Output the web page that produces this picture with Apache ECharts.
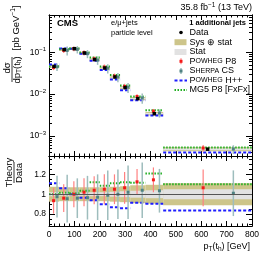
<!DOCTYPE html>
<html><head><meta charset="utf-8">
<script src="https://cdn.jsdelivr.net/npm/echarts@6/dist/echarts.min.js"></script>
<style>html,body{margin:0;padding:0;background:#fff}#c{width:266px;height:258px}</style>
</head><body><div id="c"></div>
<script>
// ---- data ----
const binEdges = [0, 40, 80, 120, 160, 200, 240, 280, 320, 380, 450, 800];
const dataXsec = [0.046, 0.116, 0.122, 0.096, 0.067, 0.042, 0.0256, 0.0143, 0.0078, 0.0034, 0.00048];
const dataStatRel = [0.02, 0.015, 0.015, 0.015, 0.02, 0.02, 0.025, 0.03, 0.035, 0.04, 0.05];
const dataSysStatRel = [0.075, 0.07, 0.07, 0.07, 0.07, 0.07, 0.075, 0.08, 0.09, 0.095, 0.11];
const powhegP8Ratio = [0.935, 0.96, 1.0, 1.02, 1.04, 1.05, 1.05, 1.065, 1.125, 1.145, 1.065];
const powhegP8Err = [0.13, 0.14, 0.13, 0.14, 0.14, 0.15, 0.15, 0.16, 0.13, 0.125, 0.185];
const sherpaRatio = [0.975, 0.955, 0.96, 0.965, 0.97, 0.99, 1.0, 1.02, 1.04, 1.035, 1.01];
const sherpaErr = [0.21, 0.24, 0.2, 0.22, 0.23, 0.25, 0.25, 0.27, 0.28, 0.22, 0.23];
const powhegHppRatio = [1.11, 1.06, 1.0, 0.965, 0.94, 0.9, 0.87, 0.86, 0.915, 0.905, 0.835];
const mg5Ratio = [1.0, 1.015, 1.01, 1.035, 1.12, 1.085, 1.11, 1.12, 1.115, 1.21, 1.10];
const xTickValues = [0, 100, 200, 300, 400, 500, 600, 700, 800];
const topYTickValues = [0.1, 0.01, 0.001];
const ratioTickValues = [0.8, 1, 1.2];
const ratioMinorTickValues = [0.7, 0.75, 0.85, 0.9, 0.95, 1.05, 1.1, 1.15, 1.25, 1.3, 1.35];

// ---- styling constants ----
const FONT = 'Liberation Sans';
const C_SYS = '#cdc58a', C_STAT = '#e2e2e2';
const C_RED = '#f41a1a', C_RED_BAR = '#ff8080';
const C_TEAL = '#4f8282', C_TEAL_BAR = '#9ebdbd';
const C_BLUE = '#1d1dff', C_GREEN = '#1fae1f';
const RED_OFF = -0.05, TEAL_OFF = 0.29;

const topMin = 3.3e-4, topMax = 0.78, rMin = 0.68, rMax = 1.385;
const logMinor = [];
for (let e = -4; e <= -1; e++) for (let m = 2; m <= 9; m++) logMinor.push(m * Math.pow(10, e));

const nb = dataXsec.length;
const lo = i => binEdges[i], hi = i => binEdges[i + 1];
const ctr = i => (binEdges[i] + binEdges[i + 1]) / 2;
const wid = i => binEdges[i + 1] - binEdges[i];
const idx = [...Array(nb).keys()];

// band rows: [xlo, xhi, ylo, yhi]
const topSys = idx.map(i => [lo(i), hi(i), dataXsec[i] * (1 - dataSysStatRel[i]), dataXsec[i] * (1 + dataSysStatRel[i])]);
const topStat = idx.map(i => [lo(i), hi(i), dataXsec[i] * (1 - dataStatRel[i]), dataXsec[i] * (1 + dataStatRel[i])]);
const rSys = idx.map(i => [lo(i), hi(i), 1 - dataSysStatRel[i], 1 + dataSysStatRel[i]]);
const rStat = idx.map(i => [lo(i), hi(i), 1 - dataStatRel[i], 1 + dataStatRel[i]]);
// segments: [xlo, xhi, y]
const topHpp = idx.map(i => [lo(i), hi(i), dataXsec[i] * powhegHppRatio[i]]);
const topMg5 = idx.map(i => [lo(i), hi(i), dataXsec[i] * mg5Ratio[i]]);
const rHpp = idx.map(i => [lo(i), hi(i), powhegHppRatio[i]]);
const rMg5 = idx.map(i => [lo(i), hi(i), mg5Ratio[i]]);
// points: [x, y, ylo, yhi]
const topRed = idx.map(i => { const v = dataXsec[i] * powhegP8Ratio[i]; return [ctr(i) + RED_OFF * wid(i), v, v * (1 - powhegP8Err[i]), v * (1 + powhegP8Err[i])]; });
const topTeal = idx.map(i => { const v = dataXsec[i] * sherpaRatio[i]; return [ctr(i) + TEAL_OFF * wid(i), v, v * (1 - sherpaErr[i]), v * (1 + sherpaErr[i])]; });
const rRed = idx.map(i => [ctr(i) + RED_OFF * wid(i), powhegP8Ratio[i], powhegP8Ratio[i] - powhegP8Err[i], powhegP8Ratio[i] + powhegP8Err[i]]);
const rTeal = idx.map(i => [ctr(i) + TEAL_OFF * wid(i), sherpaRatio[i], sherpaRatio[i] - sherpaErr[i], sherpaRatio[i] + sherpaErr[i]]);
const topData = idx.map(i => [ctr(i), dataXsec[i], dataXsec[i] * (1 - dataStatRel[i]), dataXsec[i] * (1 + dataStatRel[i])]);

function bandSeries(data, color, xi, yi, z) {
  return { type: 'custom', xAxisIndex: xi, yAxisIndex: yi, z: z, clip: true, silent: true, data: data,
    renderItem: (p, api) => {
      const a = api.coord([api.value(0), api.value(3)]);
      const b = api.coord([api.value(1), api.value(2)]);
      return { type: 'rect', shape: { x: a[0], y: a[1], width: b[0] - a[0], height: b[1] - a[1] }, style: { fill: color } };
    } };
}
function segSeries(data, color, dash, xi, yi, z) {
  return { type: 'custom', xAxisIndex: xi, yAxisIndex: yi, z: z, clip: true, silent: true, data: data,
    renderItem: (p, api) => {
      const a = api.coord([api.value(0), api.value(2)]);
      const b = api.coord([api.value(1), api.value(2)]);
      return { type: 'line', shape: { x1: a[0], y1: a[1], x2: b[0], y2: b[1] }, style: { stroke: color, lineWidth: 2, lineDash: dash } };
    } };
}
function pointSeries(data, mColor, bColor, bw, ms, xi, yi, z) {
  return { type: 'custom', xAxisIndex: xi, yAxisIndex: yi, z: z, clip: true, silent: true, data: data,
    renderItem: (p, api) => {
      const c = api.coord([api.value(0), api.value(1)]);
      const l = api.coord([api.value(0), api.value(2)]);
      const h = api.coord([api.value(0), api.value(3)]);
      return { type: 'group', children: [
        { type: 'line', shape: { x1: l[0], y1: l[1], x2: h[0], y2: h[1] }, style: { stroke: bColor, lineWidth: bw } },
        { type: 'rect', shape: { x: c[0] - ms / 2, y: c[1] - ms / 2, width: ms, height: ms }, style: { fill: mColor } }
      ] };
    } };
}

const tickStyle = { lineStyle: { color: '#000', width: 1 } };
function xAx(gi, pos, labels) {
  return { type: 'value', gridIndex: gi, position: pos, min: 0, max: 800, interval: 100,
    axisLine: { show: true, onZero: false, lineStyle: { color: '#000', width: 1 } },
    axisTick: { show: true, inside: true, length: 5, ...tickStyle },
    minorTick: { show: true, splitNumber: 5, length: 2.5, lineStyle: { color: '#000', width: 1 } },
    splitLine: { show: false },
    axisLabel: labels ? { show: true, customValues: xTickValues, margin: 4, fontSize: 8.5, fontFamily: FONT, color: '#000' } : { show: false } };
}
const supRich = { sup: { fontSize: 6, fontFamily: FONT, color: '#000', padding: [0, 0, 6, 0] }, b: { fontSize: 8.5, fontFamily: FONT, color: '#000' } };
function yLog(pos, vals, len, labels) {
  return { type: 'log', gridIndex: 0, position: pos, min: topMin, max: topMax, logBase: 10,
    axisLine: { show: true, onZero: false, lineStyle: { color: '#000', width: 1 } },
    axisTick: { show: true, inside: true, length: len, customValues: vals, ...tickStyle },
    splitLine: { show: false }, minorTick: { show: false },
    axisLabel: labels ? { show: true, customValues: topYTickValues, margin: 3, fontSize: 8.5, fontFamily: FONT, color: '#000',
      formatter: v => '{b|10}{sup|' + String(Math.round(Math.log10(v))).replace('-', '\u2212') + '}', rich: supRich } : { show: false } };
}
function yRatio(pos, vals, len, labels) {
  return { type: 'value', gridIndex: 1, position: pos, min: rMin, max: rMax,
    axisLine: { show: true, onZero: false, lineStyle: { color: '#000', width: 1 } },
    axisTick: { show: true, inside: true, length: len, customValues: vals, ...tickStyle },
    splitLine: { show: false }, minorTick: { show: false },
    axisLabel: labels ? { show: true, customValues: ratioTickValues, margin: 3, fontSize: 8.5, fontFamily: FONT, color: '#000',
      formatter: v => String(Math.round(v * 10) / 10) } : { show: false } };
}

const txt = (x, y, text, extra) => ({ type: 'text', x: x, y: y, silent: true,
  style: Object.assign({ text: text, fontFamily: FONT, fontSize: 9, fill: '#000', verticalAlign: 'middle' }, extra || {}) });
const rot = (x, y, text, extra) => Object.assign(txt(x, y, text, Object.assign({ align: 'center' }, extra)), { rotation: Math.PI / 2 });
const scRich = { sc: { fontSize: 7, fontFamily: FONT, fill: '#000' } };
const subRich = { sub: { fontSize: 6.5, fontFamily: FONT, fill: '#000', padding: [4, 0, 0, 0] } };

const LX = 181, LT = 189.5;
const graphic = [
  txt(252, 8, '35.8 fb{sup|\u22121} (13 TeV)', { align: 'right', rich: { sup: { fontSize: 6.5, fontFamily: FONT, fill: '#000', padding: [0, 0, 6, 0] } } }),
  txt(57, 23, 'CMS', { fontWeight: 'bold', fontSize: 9.5 }),
  txt(111, 23, 'e/\u03bc+jets', { fontSize: 7.5 }),
  txt(111, 33, 'particle level', { fontSize: 7.5 }),
  txt(246, 22.5, '1 additional jets', { align: 'right', fontWeight: 'bold', fontSize: 7.5 }),
  { type: 'circle', shape: { cx: LX, cy: 32.5, r: 1.8 }, style: { fill: '#000' }, silent: true },
  txt(LT, 32.5, 'Data'),
  { type: 'rect', shape: { x: 174.5, y: 39.2, width: 12, height: 6 }, style: { fill: C_SYS }, silent: true },
  txt(LT, 42.3, 'Sys \u2295 stat'),
  { type: 'rect', shape: { x: 174.5, y: 49, width: 12, height: 6 }, style: { fill: C_STAT }, silent: true },
  txt(LT, 52, 'Stat'),
  { type: 'line', shape: { x1: LX, y1: 58.3, x2: LX, y2: 64.3 }, style: { stroke: C_RED_BAR, lineWidth: 1.2 }, silent: true },
  { type: 'rect', shape: { x: LX - 1.5, y: 59.8, width: 3, height: 3 }, style: { fill: C_RED }, silent: true },
  txt(LT, 61.3, 'P{sc|OWHEG} P8', { rich: scRich }),
  { type: 'line', shape: { x1: LX, y1: 68, x2: LX, y2: 74 }, style: { stroke: C_TEAL_BAR, lineWidth: 1.5 }, silent: true },
  { type: 'rect', shape: { x: LX - 1.5, y: 69.5, width: 3, height: 3 }, style: { fill: C_TEAL }, silent: true },
  txt(LT, 71, 'S{sc|HERPA} CS', { rich: scRich }),
  { type: 'line', shape: { x1: 174.5, y1: 80.5, x2: 187, y2: 80.5 }, style: { stroke: C_BLUE, lineWidth: 2, lineDash: [3, 2] }, silent: true },
  txt(LT, 80.3, 'P{sc|OWHEG} H++', { rich: scRich }),
  { type: 'line', shape: { x1: 174.5, y1: 90, x2: 187, y2: 90 }, style: { stroke: C_GREEN, lineWidth: 2, lineDash: [1.5, 1.5] }, silent: true },
  txt(LT, 90, 'MG5 P8 [FxFx]'),
  // axis titles
  txt(250, 247, 'p{sub|T}(t{sub|h}) [GeV]', { align: 'right', rich: subRich }),
  rot(7.5, 68, 'd\u03c3', { fontSize: 9.5 }),
  { type: 'line', shape: { x1: 12, y1: 57, x2: 12, y2: 82 }, style: { stroke: '#000', lineWidth: 0.8 }, silent: true },
  rot(17, 70, 'dp{sub|T}(t{sub|h})', { fontSize: 9.5, rich: subRich }),
  rot(16.5, 28, '[pb GeV{sup|\u22121}]', { fontSize: 9.5, rich: { sup: { fontSize: 6.5, fontFamily: FONT, fill: '#000', padding: [0, 0, 6, 0] } } }),
  rot(9, 172.5, 'Theory', { fontSize: 9.5 }),
  { type: 'line', shape: { x1: 14, y1: 162, x2: 14, y2: 183 }, style: { stroke: '#000', lineWidth: 0.8 }, silent: true },
  rot(19.5, 173, 'Data', { fontSize: 9.5 })
];

const chart = echarts.init(document.getElementById('c'), null, { renderer: 'canvas', width: 266, height: 258 });
chart.setOption({
  animation: false,
  backgroundColor: '#fff',
  grid: [
    { left: 49, top: 15, width: 203, height: 141 },
    { left: 49, top: 156, width: 203, height: 70 }
  ],
  xAxis: [xAx(0, 'bottom', false), xAx(0, 'top', false), xAx(1, 'bottom', true), xAx(1, 'top', false)],
  yAxis: [
    yLog('left', topYTickValues, 6, true), yLog('left', logMinor, 3, false),
    yLog('right', topYTickValues, 6, false), yLog('right', logMinor, 3, false),
    yRatio('left', ratioTickValues, 6, true), yRatio('left', ratioMinorTickValues, 3, false),
    yRatio('right', ratioTickValues, 6, false), yRatio('right', ratioMinorTickValues, 3, false)
  ],
  graphic: graphic,
  series: [
    bandSeries(topSys, C_SYS, 0, 0, 1),
    bandSeries(topStat, C_STAT, 0, 0, 2),
    segSeries(topHpp, C_BLUE, [3, 2], 0, 0, 3),
    segSeries(topMg5, C_GREEN, [1.5, 1.5], 0, 0, 3),
    pointSeries(topTeal, C_TEAL, C_TEAL_BAR, 1.5, 3, 0, 0, 4),
    pointSeries(topRed, C_RED, C_RED_BAR, 1.2, 3, 0, 0, 4),
    pointSeries(topData, '#000', '#000', 1, 3.5, 0, 0, 5),
    Object.assign(bandSeries(rSys, C_SYS, 2, 4, 1), {
      markLine: { silent: true, symbol: 'none', label: { show: false }, lineStyle: { color: '#555', width: 1, type: 'solid' }, data: [{ yAxis: 1 }] } }),
    bandSeries(rStat, C_STAT, 2, 4, 2),
    segSeries(rHpp, C_BLUE, [3, 2], 2, 4, 3),
    segSeries(rMg5, C_GREEN, [1.5, 1.5], 2, 4, 3),
    pointSeries(rTeal, C_TEAL, C_TEAL_BAR, 1.5, 3, 2, 4, 4),
    pointSeries(rRed, C_RED, C_RED_BAR, 1.2, 3, 2, 4, 4)
  ]
});
</script>
</body></html>
